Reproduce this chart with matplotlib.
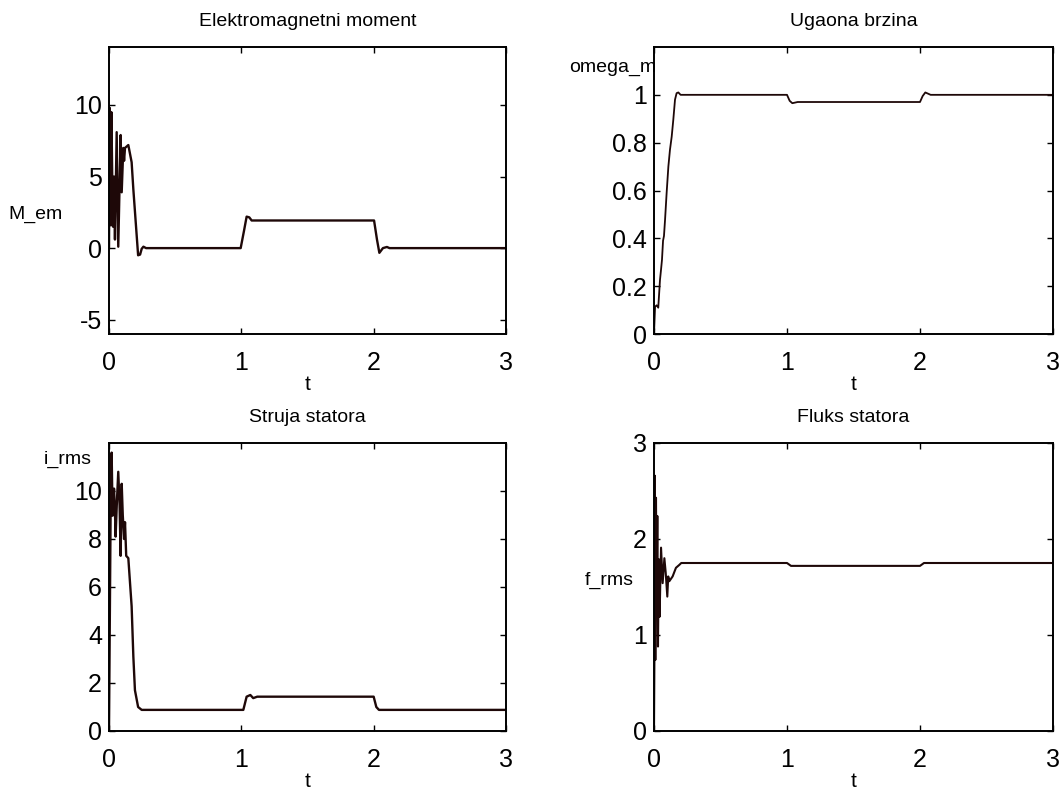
import matplotlib
matplotlib.use("Agg")
import matplotlib.pyplot as plt
from matplotlib.ticker import FuncFormatter

plt.rcParams["font.family"] = ["Liberation Sans", "DejaVu Sans"]

# Elektromagnetni moment
t_mem = [0, 0.005, 0.012, 0.018, 0.025, 0.03, 0.038, 0.045, 0.058, 0.07, 0.088,
         0.096, 0.108, 0.114, 0.121, 0.146, 0.171, 0.184, 0.22, 0.235, 0.247,
         0.26, 0.28, 0.995, 1.02, 1.04, 1.06, 1.078, 2.003, 2.025, 2.043, 2.07,
         2.1, 2.12, 3.0]
m_em = [0, 9.8, 1.6, 9.5, 4.5, 1.5, 5.0, 0.6, 8.1, 0.1, 7.9,
        3.9, 7.0, 6.1, 7.0, 7.2, 6.0, 4.1, -0.5, -0.45, -0.05,
        0.1, 0.0, 0.0, 1.2, 2.2, 2.15, 1.93, 1.93, 0.6, -0.33, 0.0,
        0.08, 0.0, 0.0]

# Ugaona brzina
t_om = [0, 0.008, 0.02, 0.032, 0.045, 0.053, 0.06, 0.068, 0.075, 0.083, 0.095,
        0.108, 0.12, 0.133, 0.145, 0.158, 0.17, 0.183, 0.2, 1.0, 1.02, 1.04,
        1.08, 2.0, 2.02, 2.04, 2.08, 3.0]
omega = [0, 0.114, 0.12, 0.11, 0.226, 0.27, 0.31, 0.39, 0.41, 0.477, 0.59,
         0.70, 0.77, 0.825, 0.895, 0.98, 1.007, 1.01, 1.0, 1.0, 0.975, 0.965,
         0.97, 0.97, 0.995, 1.01, 1.0, 1.0]

# Struja statora
t_i = [0, 0.012, 0.02, 0.027, 0.038, 0.045, 0.05, 0.06, 0.07, 0.08, 0.088,
       0.096, 0.104, 0.114, 0.121, 0.13, 0.146, 0.171, 0.184, 0.196, 0.22,
       0.247, 1.015, 1.04, 1.068, 1.09, 1.12, 2.0, 2.02, 2.04, 3.0]
i_rms = [0, 9.0, 11.6, 8.97, 10.1, 9.2, 8.1, 9.6, 10.8, 9.4, 7.3,
         10.3, 9.0, 8.0, 8.7, 7.3, 7.2, 5.2, 3.1, 1.7, 1.0,
         0.88, 0.88, 1.43, 1.5, 1.37, 1.43, 1.43, 1.0, 0.88, 0.88]

# Fluks statora
t_f = [0, 0.003, 0.006, 0.01, 0.015, 0.02, 0.025, 0.03, 0.036, 0.042, 0.053,
       0.065, 0.078, 0.088, 0.1, 0.107, 0.115, 0.14, 0.165, 0.19, 0.205, 1.0,
       1.03, 2.0, 2.03, 3.0]
f_rms = [0, 0.74, 2.66, 0.74, 2.43, 1.3, 2.24, 0.88, 1.79, 1.19, 1.91,
         1.54, 1.80, 1.65, 1.40, 1.61, 1.56, 1.61, 1.70, 1.73, 1.75, 1.75,
         1.72, 1.72, 1.75, 1.75]

line_c = "#1e0808"
fig = plt.figure(figsize=(10.63, 7.96), dpi=100)

left_x, right_x = 109 / 1063, 654 / 1063
w_l, w_r = 397 / 1063, 399 / 1063
top_y, bot_y = 1 - 334 / 796, 1 - 731 / 796
h_t, h_b = 287 / 796, 288 / 796

ax1 = fig.add_axes([left_x, top_y, w_l, h_t])
ax2 = fig.add_axes([right_x, top_y, w_r, h_t])
ax3 = fig.add_axes([left_x, bot_y, w_l, h_b])
ax4 = fig.add_axes([right_x, bot_y, w_r, h_b])

ax1.plot(t_mem, m_em, color=line_c, lw=1.7)
ax2.plot(t_om, omega, color=line_c, lw=1.3)
ax3.plot(t_i, i_rms, color=line_c, lw=1.7)
ax4.plot(t_f, f_rms, color=line_c, lw=1.5)

ax1.set_ylim(-6, 14.05)
ax1.set_yticks([-5, 0, 5, 10])
ax2.set_ylim(0, 1.2)
ax2.set_yticks([0, 0.2, 0.4, 0.6, 0.8, 1.0])
ax3.set_ylim(0, 12)
ax3.set_yticks([0, 2, 4, 6, 8, 10])
ax4.set_ylim(0, 3)
ax4.set_yticks([0, 1, 2, 3])

titles = ["Elektromagnetni moment", "Ugaona brzina", "Struja statora", "Fluks statora"]
fmt = FuncFormatter(lambda v, p: "%g" % v)
for ax, ttl in zip([ax1, ax2, ax3, ax4], titles):
    ax.set_xlim(0, 3)
    ax.set_xticks([0, 1, 2, 3])
    ax.xaxis.set_major_formatter(fmt)
    ax.yaxis.set_major_formatter(fmt)
    ax.tick_params(direction="in", length=4, width=1, top=True, right=True,
                   labelsize=18, pad=5)
    ax.tick_params(axis="x", pad=12)
    for s in ax.spines.values():
        s.set_linewidth(1.4)
    ax.set_title(ttl, fontsize=14, pad=15)
    ax.set_xlabel("t", fontsize=15, labelpad=0)

ax1.text(-0.118, 0.415, "M_em", transform=ax1.transAxes, ha="right", va="center", fontsize=14)
ax2.text(0.005, 0.927, "omega_m", transform=ax2.transAxes, ha="right", va="center", fontsize=14)
ax3.text(-0.043, 0.944, "i_rms", transform=ax3.transAxes, ha="right", va="center", fontsize=14)
ax4.text(-0.05, 0.524, "f_rms", transform=ax4.transAxes, ha="right", va="center", fontsize=14)

fig.savefig("out.png", dpi=100, facecolor="white")
